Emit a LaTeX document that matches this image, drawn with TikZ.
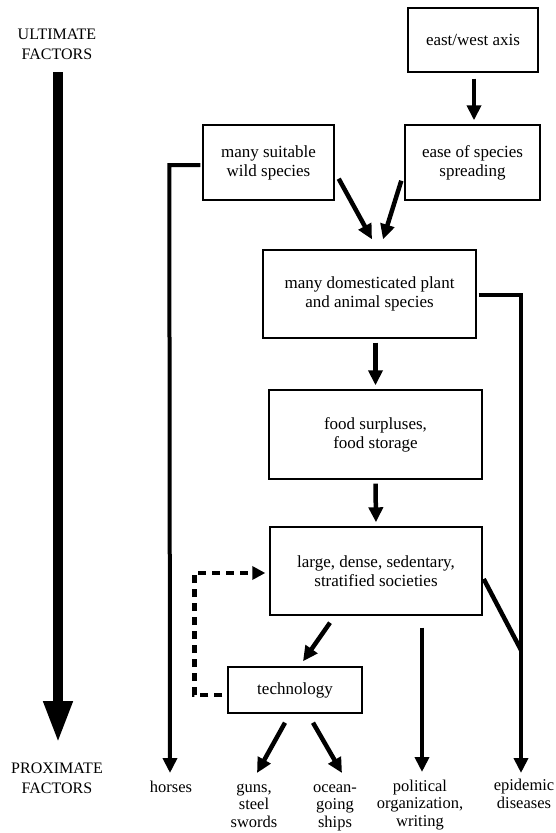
\documentclass[tikz,border=0pt]{standalone}
\usepackage{fontspec}
\setmainfont{Liberation Serif}
\usetikzlibrary{arrows.meta,calc}
\begin{document}
\begin{tikzpicture}[x=1pt,y=-1pt,
  box/.style={draw, line width=1.4pt, align=center, inner sep=0pt,
    font=\fontsize{17}{19}\selectfont},
  arr/.style={line width=4.5pt, -{Triangle[length=15pt,width=14pt]}},
  thickln/.style={line width=4.5pt},
  dashln/.style={line width=4.5pt, dash pattern=on 8pt off 6pt},
  lab/.style={align=center, inner sep=0pt, anchor=base, font=\fontsize{16.5}{17.5}\selectfont},
  biglab/.style={align=center, inner sep=0pt, anchor=base, font=\fontsize{16}{19.5}\selectfont}
]
\useasboundingbox (0,0) rectangle (555,833);

% boxes
\node[box, minimum width=130pt, minimum height=64pt] (ew) at (473,40) {east/west axis};
\node[box, minimum width=135pt, minimum height=75pt] (ease) at (472.5,162.5) {ease of species\\spreading};
\node[box, minimum width=131pt, minimum height=75pt] (wild) at (268.5,162.5) {many suitable\\wild species};
\node[box, minimum width=213pt, minimum height=88pt] (dom) at (369.5,294) {many domesticated plant\\and animal species};
\node[box, minimum width=213pt, minimum height=89pt] (food) at (375.5,434.5) {food surpluses,\\food storage};
\node[box, minimum width=212pt, minimum height=88pt] (large) at (376,571) {large, dense, sedentary,\\stratified societies};
\node[box, minimum width=134pt, minimum height=46pt] (tech) at (295,690) {technology};

% labels (base = baseline of last line)
\node[biglab] (ult) at (57,59) {ULTIMATE\\FACTORS};
\node[biglab] (prox) at (57,793) {PROXIMATE\\FACTORS};
\node[lab] (horses) at (171,792) {horses};
\node[lab] (guns) at (254,827) {guns,\\steel\\swords};
\node[lab] (ships) at (335,827) {ocean-\\going\\ships};
\node[lab] (pol) at (420,826) {political\\organization,\\writing};
\node[lab] (epi) at (524,808) {epidemic\\diseases};

% big arrow
\draw[line width=10pt, -{Triangle[length=42pt,width=27pt]}]
  ($(ult.base)+(1,13)$) -- ($(prox.base)+(1,-50)$);

% arrows
\draw[arr] ($(ew.south)+(1,6)$) -- ($(ease.north)+(1.5,-4)$);
\draw[arr] ($(wild.south east)+(4,-22)$) -- ($(dom.north)+(2.5,-10)$);
\draw[arr] ($(ease.south west)+(-3,-20)$) -- ($(dom.north)+(13.5,-10)$);
\draw[arr] ($(dom.south -| food.north)+(0,4)$) -- ($(food.north)+(0,-4)$);
\draw[arr] ($(food.south)+(0,4)$) -- ($(large.north)+(0,-4)$);
\draw[arr] ($(large.south)+(-46,7)$) -- ($(tech.north)+(8,-5)$);
\draw[arr] ($(tech.south)+(-10,9)$) -- ($(guns.base)+(3,-54)$);
\draw[arr] ($(tech.south)+(18,9)$) -- ($(ships.base)+(7,-54)$);
\draw[arr] ($(large.south)+(46,12)$) -- ($(pol.base)+(2,-54)$);

% to horses
\draw[thickln, line width=4pt, -{Triangle[length=15pt,width=14pt]}]
  ($(wild.west)+(-2,2.5)$) -- ($(wild.west)+(-33,2.5)$) -- ($(horses.base)+(-1,-19)$);

% to epidemic diseases
\coordinate (jn) at ($(epi.base)+(-3,-158)$);
\draw[thickln, -{Triangle[length=15pt,width=14pt]}]
  ($(dom.east)+(2,1)$) -| ($(epi.base)+(-3,-35)$);
\draw[thickln] ($(large.east)+(1,8)$) -- (jn);

% dashed feedback
\draw[dashln, -{Triangle[length=13pt,width=13pt]}]
  ($(tech.west)+(-5,5)$) -- ($(tech.west)+(-33,5)$) |- ($(large.west)+(-4,2)$);

\end{tikzpicture}
\end{document}
